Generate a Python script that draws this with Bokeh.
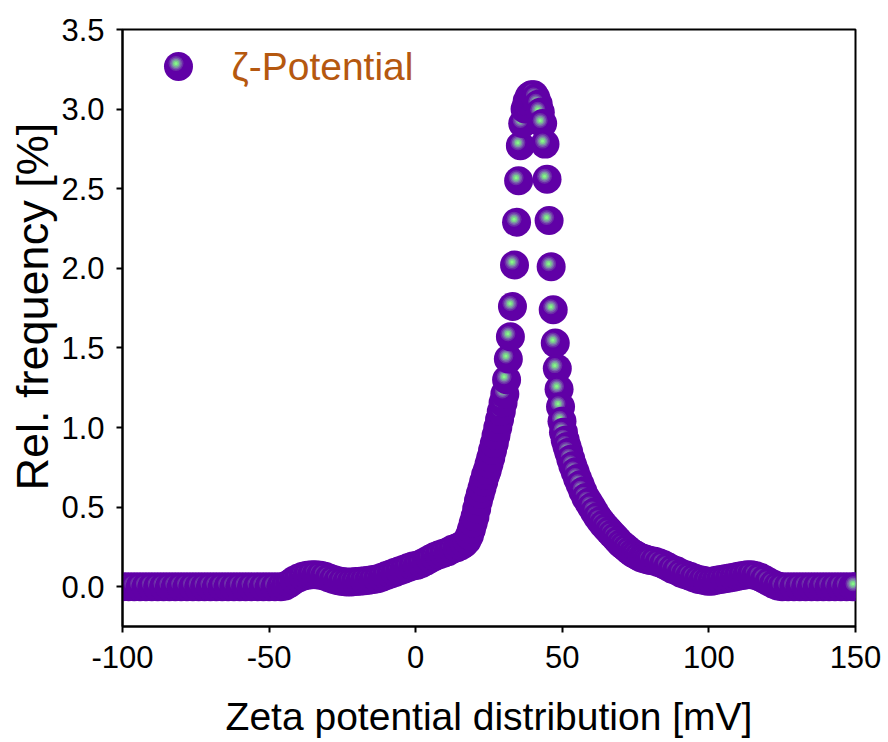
from bokeh.plotting import figure
from bokeh.models import ColumnDataSource, FixedTicker, NumeralTickFormatter, Range1d, Label, Title
from bokeh.embed import file_html
from bokeh.resources import INLINE

# ---------------- data ----------------
zeta_mv = [
    -100, -98, -96, -94, -92, -90, -88, -86, -84, -82, -80, -78, -76, -74,
    -72, -70, -68, -66, -64, -62, -60, -58, -56, -54, -52, -50, -48, -46,
    -44.5, -43, -41.5, -40, -38.5, -37, -35.5, -34, -32.5, -31, -29.5, -28,
    -26.5, -25, -23.5, -22, -20.5, -19, -17.5, -16, -14.5, -13, -11.5, -10,
    -8.5, -7, -5.5, -4, -2.5, -1, 0.5, 2, 3.5, 5, 6.5, 8, 9.5, 11, 12.5, 14,
    15.3, 16.5, 17.5, 18.3, 19.0, 19.6, 20.2, 20.8, 21.4, 22.0, 22.6, 23.2,
    23.8, 24.4, 25.0, 25.6, 26.2, 26.8, 27.4, 28.0, 28.6, 29.2, 29.8, 30.4,
    31.0, 31.6, 32.3, 33.0, 33.7, 34.4, 35.1, 35.7, 36.5, 37.3, 38.0, 38.8,
    39.5, 40.3, 41.0, 41.8, 42.5, 43.3, 44.1, 44.8, 45.5, 46.2, 46.9, 47.6,
    48.3, 48.9, 49.4, 49.9, 50.4, 51.0, 51.6, 52.2, 52.9, 53.6, 54.4, 55.2,
    56.1, 57.0, 58.0, 59.0, 60.0, 61.0, 62.0, 63.0, 64.0, 65.0, 66.0, 67.0,
    68.0, 69.0, 70.0, 71.0, 72.0, 73.0, 74.0, 75.0, 76.0, 77.0, 78.0, 79.0,
    80.0, 81.5, 83.0, 84.5, 86.0, 87.5, 89.0, 90.5, 92.0, 93.5, 95.0, 96.5,
    98.0, 99.5, 101.0, 102.5, 104.0, 105.5, 107.0, 108.5, 110.0, 111.5,
    113.0, 114.5, 116.0, 117.5, 119.0, 120.5, 122.0, 123.5, 125.0, 127.0,
    129.0, 131.0, 133.0, 135.0, 137.0, 139.0, 141.0, 143.0, 145.0, 147.0,
    149.0, 150.0,
]
rel_freq = [
    0.0, 0.0, 0.0, 0.0, 0.0, 0.0, 0.0, 0.0, 0.0, 0.0, 0.0, 0.0, 0.0, 0.0,
    0.0, 0.0, 0.0, 0.0, 0.0, 0.0, 0.0, 0.0, 0.0, 0.0, 0.0, 0.0, 0.0, 0.0,
    0.005, 0.02, 0.04, 0.055, 0.065, 0.072, 0.075, 0.075, 0.072, 0.065, 0.055, 0.045,
    0.038, 0.033, 0.03, 0.03, 0.032, 0.035, 0.038, 0.04, 0.045, 0.05, 0.06, 0.07,
    0.08, 0.09, 0.10, 0.11, 0.12, 0.13, 0.135, 0.145, 0.16, 0.175, 0.19, 0.20, 0.21, 0.22, 0.235, 0.245,
    0.255, 0.27, 0.29, 0.32, 0.36, 0.40, 0.44, 0.49, 0.54, 0.58, 0.62, 0.66,
    0.70, 0.73, 0.77, 0.81, 0.855, 0.90, 0.95, 1.00, 1.05, 1.10, 1.155, 1.21,
    1.30, 1.43, 1.57, 1.76, 2.02, 2.29, 2.55, 2.77, 2.91, 3.00, 3.05, 3.08,
    3.09, 3.09, 3.07, 3.03, 2.98, 2.91, 2.78, 2.56, 2.30, 2.01, 1.74, 1.53,
    1.37, 1.24, 1.13, 1.04, 0.97, 0.92, 0.88, 0.845, 0.80, 0.76, 0.72, 0.68,
    0.64, 0.60, 0.56, 0.53, 0.50, 0.47, 0.44, 0.415, 0.39, 0.37, 0.35, 0.33,
    0.31, 0.29, 0.27, 0.255, 0.24, 0.225, 0.21, 0.20, 0.19, 0.18, 0.175, 0.17,
    0.165, 0.16, 0.15, 0.14, 0.125, 0.11, 0.10, 0.085, 0.075, 0.065, 0.055, 0.045,
    0.04, 0.035, 0.035, 0.04, 0.045, 0.05, 0.055, 0.06, 0.065, 0.07,
    0.075, 0.075, 0.07, 0.06, 0.045, 0.03, 0.015, 0.005, 0.0, 0.0,
    0.0, 0.0, 0.0, 0.0, 0.0, 0.0, 0.0, 0.0, 0.0, 0.0,
    0.0, 0.0,
]
x_ticks = [-100, -50, 0, 50, 100, 150]
y_ticks = [0.0, 0.5, 1.0, 1.5, 2.0, 2.5, 3.0, 3.5]
series_label = "ζ-Potential"
x_title = "Zeta potential distribution [mV]"
y_title = "Rel. frequency [%]"

# ---------------- layout / style ----------------
W, H = 888, 742
FL, FR, FT, FB = 122, 33, 29, 116          # frame borders in px
XMIN, XMAX, YMIN, YMAX = -100, 150, -0.25, 3.5
FRAME_W, FRAME_H = W - FL - FR, H - FT - FB
PPX = FRAME_W / (XMAX - XMIN)
PPY = FRAME_H / (YMAX - YMIN)
FONT = "Liberation Sans"
PURPLE = "#6000A6"
BALL = 29
# highlight rings (size, color), offset up-left in px
RINGS = [(15, "#6c2ca8"), (12, "#7a5cae"), (9, "#7d95a4"), (6, "#7ccf8e"), (3, "#86f888")]
HL_DX, HL_DY = -2.5, 3.0

def to_dx(px):
    return XMIN + (px - FL) / PPX

def to_dy(py):
    return YMAX - (py - FT) / PPY

def sphere_columns(xs, ys):
    cx, cy, sz, col = [], [], [], []
    for x, y in zip(xs, ys):
        cx.append(x); cy.append(y); sz.append(BALL); col.append(PURPLE)
        for s, c in RINGS:
            cx.append(x + HL_DX / PPX); cy.append(y + HL_DY / PPY)
            sz.append(s); col.append(c)
    return dict(x=cx, y=cy, size=sz, color=col)

p = figure(width=W, height=H, output_backend="svg", toolbar_location=None,
           x_range=Range1d(XMIN, XMAX), y_range=Range1d(YMIN, YMAX),
           min_border_left=FL, min_border_right=FR, min_border_top=FT, min_border_bottom=FB)
p.background_fill_color = "white"
p.border_fill_color = "white"
p.grid.visible = False
p.outline_line_color = "black"
p.outline_line_width = 2
p.outline_line_alpha = 1

src = ColumnDataSource(sphere_columns(zeta_mv, rel_freq))
p.scatter("x", "y", source=src, size="size", fill_color="color", line_color=None, marker="circle")

# legend
ly = to_dy(66)
lsrc = ColumnDataSource(sphere_columns([to_dx(178)], [ly]))
p.scatter("x", "y", source=lsrc, size="size", fill_color="color", line_color=None, marker="circle")
p.add_layout(Label(x=to_dx(231), y=ly, text=series_label, text_font=FONT,
                   text_font_size="39px", text_color="#B5580F", text_baseline="middle"))

for ax in (p.xaxis[0], p.yaxis[0]):
    ax.axis_line_width = 2
    ax.major_tick_line_width = 2
    ax.major_tick_out = 6
    ax.major_tick_in = 0
    ax.minor_tick_line_color = None
    ax.major_label_text_font = FONT
    ax.major_label_text_font_size = "31px"
    ax.major_label_text_color = "black"
    ax.axis_label_text_font = FONT
    ax.axis_label_text_font_style = "normal"
    ax.axis_label_text_color = "black"

p.xaxis.axis_label_text_font_size = "39px"
p.xaxis.ticker = FixedTicker(ticks=x_ticks)
p.yaxis.ticker = FixedTicker(ticks=y_ticks)
p.xaxis.formatter = NumeralTickFormatter(format="0")
p.yaxis.formatter = NumeralTickFormatter(format="0.0")
p.xaxis.axis_label = x_title
p.xaxis.major_label_standoff = 13
p.yaxis.major_label_standoff = 12
p.xaxis.axis_label_standoff = 24

# y-axis title as a left-side title, starting a little above the frame bottom
p.add_layout(Title(text=y_title, text_font=FONT, text_font_size="45px",
                   text_font_style="normal", text_color="black",
                   align="left", offset=136, standoff=2), "left")

open("out.html", "w").write(file_html(p, INLINE))
